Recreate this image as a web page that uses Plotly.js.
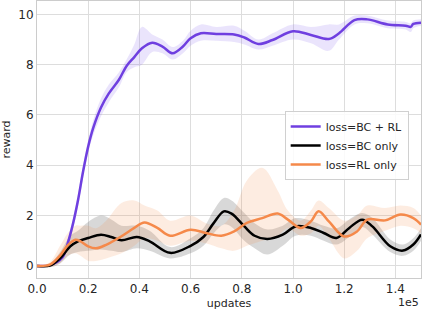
<!DOCTYPE html>
<html><head><meta charset="utf-8">
<script src="https://cdn.plot.ly/plotly-3.0.1.min.js"></script>
<style>html,body{margin:0;padding:0;background:#fff}#chart{width:422px;height:312px}</style>
</head><body><div id="chart"></div>
<script>
// BC + RL
const bcrlX = [0,5000,10000,12000,14000,16000,18000,20000,22000,25000,28000,32000,35000,38000,41000,45000,49000,53000,57000,60000,64000,70000,77000,81000,86500,92000,100000,107000,114000,118000,124000,129000,137000,144000,146000,147000,150000];
const bcrlMean = [0,0.03,0.35,0.9,1.65,2.6,3.75,4.75,5.5,6.3,6.85,7.4,7.95,8.3,8.65,8.87,8.72,8.45,8.72,9.05,9.25,9.22,9.2,9.08,8.82,8.98,9.33,9.18,9.02,9.25,9.77,9.8,9.6,9.55,9.5,9.62,9.67];
const bcrlLow = [0,0,0.25,0.75,1.45,2.35,3.5,4.5,5.2,5.95,6.5,7.1,7.7,7.9,8.0,8.5,8.45,8.2,8.45,8.75,8.95,8.95,8.9,8.8,8.6,8.75,9.0,8.85,8.55,9.0,9.6,9.65,9.45,9.4,9.3,9.45,9.55];
const bcrlHigh = [0,0.06,0.45,1.05,1.85,2.85,4.0,5.0,5.8,6.65,7.2,7.7,8.2,8.8,9.5,9.2,9.0,8.7,8.95,9.35,9.6,9.5,9.55,9.35,9.0,9.25,9.6,9.5,9.6,9.6,9.95,9.95,9.75,9.7,9.65,9.75,9.8];

// BC only
const bcX = [0,5000,9000,13000,16000,20000,25000,29000,33000,39000,44000,52000,60000,65000,69000,73000,76000,81000,85000,90000,96000,101000,107000,112000,117000,122000,127000,131000,138000,143000,147000,150000];
const bcMean = [0,0.01,0.3,0.78,0.98,1.11,1.24,1.15,1.02,1.15,0.98,0.52,0.8,1.15,1.7,2.17,2.08,1.57,1.2,1.07,1.24,1.57,1.51,1.31,1.11,1.51,1.84,1.57,0.78,0.61,0.85,1.25];
const bcLow = [0,-0.05,0.1,0.45,0.55,0.6,0.65,0.6,0.55,0.7,0.6,0.3,0.5,0.8,1.3,1.65,1.55,1.0,0.7,0.45,0.8,1.2,1.2,1.0,0.85,1.15,1.55,1.25,0.55,0.4,0.6,1.0];
const bcHigh = [0,0.08,0.55,1.2,1.4,1.75,2.0,1.85,1.6,1.6,1.4,0.75,1.1,1.5,2.2,2.7,2.6,2.1,1.7,1.45,1.6,1.9,1.8,1.6,1.5,1.85,2.1,1.9,1.05,0.85,1.1,1.5];

// RL only
const rlX = [0,5000,9000,12000,15000,17000,20000,23000,27000,33000,38000,42000,47000,52000,60000,66000,72000,77000,82000,88000,94000,98000,103000,107000,110000,114000,120000,125000,129000,136000,142000,147000,150000];
const rlMean = [0,0.05,0.41,0.82,1.04,0.98,0.78,0.7,0.84,1.18,1.51,1.73,1.51,1.2,1.44,1.31,1.2,1.37,1.71,1.9,2.08,1.84,1.51,1.77,2.17,1.77,1.17,1.37,1.84,1.81,2.04,1.9,1.64];
const rlLow = [0,-0.05,0.1,0.4,0.5,0.4,0.2,0.2,0.3,0.5,0.8,1.1,1.0,0.8,1.0,0.9,0.7,0.6,0.8,1.0,1.2,1.5,1.2,1.3,1.6,1.1,0.3,0.6,1.1,1.4,1.6,1.5,1.3];
const rlHigh = [0,0.15,0.8,1.3,1.6,1.6,1.6,1.5,1.8,2.5,2.6,2.4,2.2,1.8,2.0,1.7,1.6,2.2,3.4,3.9,3.0,2.2,1.8,2.2,2.6,2.3,1.8,2.0,2.4,2.3,2.4,2.3,2.0];

const xTickVals = [0,20000,40000,60000,80000,100000,120000,140000];
const xTickText = ['0.0','0.2','0.4','0.6','0.8','1.0','1.2','1.4'];
const yTickVals = [0,2,4,6,8,10];

const series = [
  {name:'loss=BC + RL', x:bcrlX, m:bcrlMean, lo:bcrlLow, hi:bcrlHigh, color:'#6f3fe0', fill:'rgba(130,95,235,0.17)'},
  {name:'loss=BC only', x:bcX, m:bcMean, lo:bcLow, hi:bcHigh, color:'#000000', fill:'rgba(100,100,100,0.25)'},
  {name:'loss=RL only', x:rlX, m:rlMean, lo:rlLow, hi:rlHigh, color:'#f5894a', fill:'rgba(245,140,80,0.17)'}
];
const traces = [];
series.forEach(s => {
  traces.push({x:s.x, y:s.lo, mode:'lines', line:{width:0, shape:'spline'}, showlegend:false, hoverinfo:'skip'});
  traces.push({x:s.x, y:s.hi, mode:'lines', line:{width:0, shape:'spline'}, fill:'tonexty', fillcolor:s.fill, showlegend:false, hoverinfo:'skip'});
});
series.forEach(s => {
  traces.push({x:s.x, y:s.m, mode:'lines', name:s.name, line:{color:s.color, width:2.5, shape:'spline'}});
});

const layout = {
  width:422, height:312,
  margin:{l:36.5, r:1, t:1, b:34},
  paper_bgcolor:'#fff', plot_bgcolor:'#fff',
  font:{family:'DejaVu Sans', size:12, color:'#262626'},
  xaxis:{range:[0,150000], tickvals:xTickVals, ticktext:xTickText, showgrid:true, gridcolor:'#dddddd', gridwidth:1,
         zeroline:false, showline:true, mirror:true, linecolor:'#cccccc', linewidth:1, ticks:'', ticklen:0,
         tickfont:{size:12}, title:{text:'updates', font:{size:11}, standoff:3}},
  yaxis:{range:[-0.48,10.53], tickvals:yTickVals, showgrid:true, gridcolor:'#dddddd', gridwidth:1,
         zeroline:false, showline:true, mirror:true, linecolor:'#cccccc', linewidth:1, ticks:'', ticklen:0,
         tickfont:{size:12}, title:{text:'reward', font:{size:11}, standoff:6}},
  legend:{x:0.645, y:0.603, xanchor:'left', yanchor:'top', traceorder:'normal', bgcolor:'rgba(255,255,255,0.85)', bordercolor:'#d0d0d0', borderwidth:1,
          font:{size:11}, itemwidth:30},
  annotations:[{text:'1e5', xref:'paper', yref:'paper', x:1, y:-0.088, xanchor:'right', yanchor:'middle', showarrow:false, font:{size:11}}],
  showlegend:true
};
Plotly.newPlot('chart', traces, layout, {staticPlot:true, displayModeBar:false});
</script></body></html>
